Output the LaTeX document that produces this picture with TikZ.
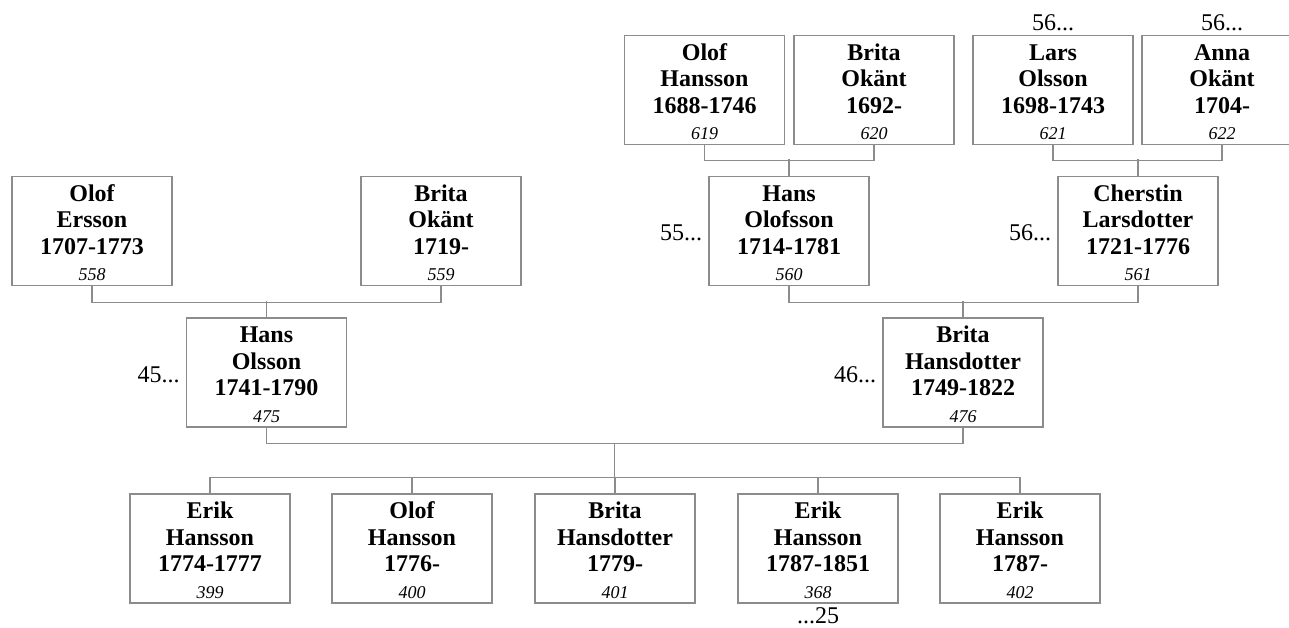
\documentclass[tikz,border=0pt]{standalone}
\usepackage{fontspec}
\setmainfont{Liberation Serif}
\usetikzlibrary{calc}
\definecolor{lineg}{RGB}{140,140,140}
\newcommand\persontext[4]{\rule{0pt}{20pt}#1\\#2\\#3\\{\fontsize{18}{27.5}\selectfont\mdseries\itshape #4}}
\begin{document}
\begin{tikzpicture}[x=1pt,y=-1pt,
  person/.style={draw=lineg, line width=1.3pt, rectangle, minimum width=160pt, minimum height=109pt, inner sep=0pt, align=center, font=\fontsize{24}{26.5}\selectfont\bfseries},
  conn/.style={draw=lineg, line width=1.3pt},
  gen/.style={inner sep=0pt, font=\fontsize{24}{26}\selectfont}]
\useasboundingbox (0,0) rectangle (1289,627);
\clip (0,0) rectangle (1289,627);
% generation 4
\node[person] (p619) at (704.5,90) {\persontext{Olof}{Hansson}{1688-1746}{619}};
\node[person] (p620) at (874,90) {\persontext{Brita}{Okänt}{1692-}{620}};
\node[person] (p621) at (1053,90) {\persontext{Lars}{Olsson}{1698-1743}{621}};
\node[person] (p622) at (1222,90) {\persontext{Anna}{Okänt}{1704-}{622}};
% generation 3
\node[person] (p558) at (92,231) {\persontext{Olof}{Ersson}{1707-1773}{558}};
\node[person] (p559) at (441,231) {\persontext{Brita}{Okänt}{1719-}{559}};
\node[person] (p560) at (789,231) {\persontext{Hans}{Olofsson}{1714-1781}{560}};
\node[person] (p561) at (1138,231) {\persontext{Cherstin}{Larsdotter}{1721-1776}{561}};
% generation 2
\node[person] (p475) at (266.5,372.5) {\persontext{Hans}{Olsson}{1741-1790}{475}};
\node[person] (p476) at (963,372.5) {\persontext{Brita}{Hansdotter}{1749-1822}{476}};
% children
\node[person] (k1) at (210,548.5) {\persontext{Erik}{Hansson}{1774-1777}{399}};
\node[person] (k2) at (412,548.5) {\persontext{Olof}{Hansson}{1776-}{400}};
\node[person] (k3) at (615,548.5) {\persontext{Brita}{Hansdotter}{1779-}{401}};
\node[person] (k4) at (818,548.5) {\persontext{Erik}{Hansson}{1787-1851}{368}};
\node[person] (k5) at (1020,548.5) {\persontext{Erik}{Hansson}{1787-}{402}};
% labels
\node[gen, anchor=east] (l45) at ($(p475.west)+(-6,2.5)$) {45...};
\node[gen, anchor=east] (l46) at ($(p476.west)+(-6,2.5)$) {46...};
\node[gen, anchor=east] (l55) at ($(p560.west)+(-6,1.5)$) {55...};
\node[gen, anchor=east] (l56a) at ($(p561.west)+(-6,1.5)$) {56...};
\node[gen] (l56b) at ($(p621.north)+(0,-12)$) {56...};
\node[gen] (l56c) at ($(p622.north)+(0,-12)$) {56...};
\node[gen] (l25) at ($(k4.south)+(0,12.5)$) {...25};
% connectors
\draw[conn] (p619.south) -- ++(0,15) -| (p620.south);
\draw[conn] (p560.north) -- ++(0,-17);
\draw[conn] (p621.south) -- ++(0,15) -| (p622.south);
\draw[conn] (p561.north) -- ++(0,-17);
\draw[conn] (p558.south) -- ++(0,16) -| (p559.south);
\draw[conn] (p475.north) -- ++(0,-16);
\draw[conn] (p560.south) -- ++(0,16) -| (p561.south);
\draw[conn] (p476.north) -- ++(0,-16);
\draw[conn] (p475.south) -- ++(0,16) -| (p476.south);
\coordinate (fam) at ($(p475.south)!0.5!(p476.south)+(0,16)$);
\draw[conn] (fam) -- ++(0,35);
\draw[conn] (k1.north) -- ++(0,-16) -| (k5.north);
\draw[conn] (k2.north) -- ++(0,-16);
\draw[conn] (k3.north) -- ++(0,-16);
\draw[conn] (k4.north) -- ++(0,-16);
\end{tikzpicture}
\end{document}
